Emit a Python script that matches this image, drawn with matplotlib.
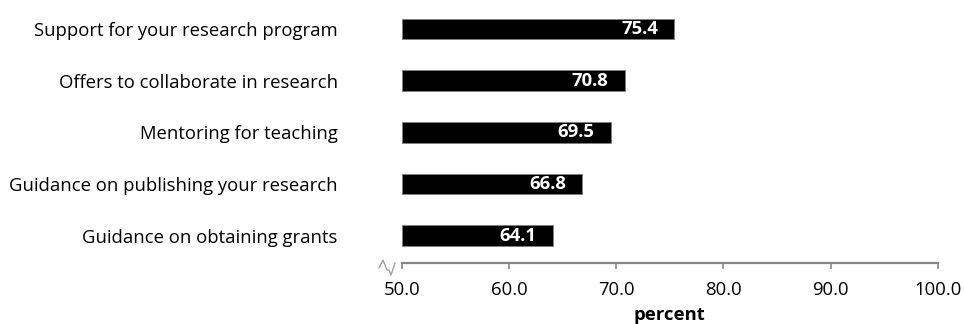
import matplotlib
matplotlib.use("Agg")
import matplotlib.pyplot as plt
from matplotlib.lines import Line2D

plt.rcParams['font.family'] = ['Open Sans', 'DejaVu Sans']

categories = [
    "Support for your research program",
    "Offers to collaborate in research",
    "Mentoring for teaching",
    "Guidance on publishing your research",
    "Guidance on obtaining grants",
]
values = [75.4, 70.8, 69.5, 66.8, 64.1]
xticks = [50.0, 60.0, 70.0, 80.0, 90.0, 100.0]
xlabel = "percent"

W, H = 964, 324
fig = plt.figure(figsize=(W / 100, H / 100), dpi=100)
ax = fig.add_axes([401.7 / W, (H - 262.7) / H, 536 / W, 262.7 / H])

fs = 13.3
grey = "#868686"
n = len(categories)
ypos = list(range(n - 1, -1, -1))
base = xticks[0]
ax.barh(ypos, [v - base for v in values], left=base, height=0.4,
        color="black", edgecolor="#7f7f7f", linewidth=0.6)

for y, v in zip(ypos, values):
    ax.annotate(f"{v:.1f}", xy=(v, y), xytext=(-16, 0), textcoords="offset pixels",
                ha="right", va="center", color="white", fontweight="bold", fontsize=fs)

ax.set_xlim(xticks[0], xticks[-1])
ax.set_ylim(-0.527, 4.564)
ax.set_xticks(xticks)
ax.set_xticklabels([f"{t:.1f}" for t in xticks], fontsize=fs)
ax.set_yticks(ypos)
ax.set_yticklabels(categories, fontsize=fs)
ax.tick_params(axis="y", length=0, pad=46)
ax.tick_params(axis="x", direction="out", length=4, width=1.2, color=grey, pad=9)
for s in ["top", "right", "left"]:
    ax.spines[s].set_visible(False)
ax.spines["bottom"].set_color(grey)
ax.spines["bottom"].set_linewidth(1.6)
ax.set_xlabel(xlabel, fontweight="bold", fontsize=fs, labelpad=5)

# axis-break zigzag at the left end of the value axis
zx = [379, 383, 387, 389, 391, 395]
zy = [268, 260, 270, 270, 275, 263]
fig.add_artist(Line2D([x / W for x in zx], [(H - y) / H for y in zy],
                      transform=fig.transFigure, color="#9a9a9a", linewidth=0.9))

fig.savefig("out.png", dpi=100)
